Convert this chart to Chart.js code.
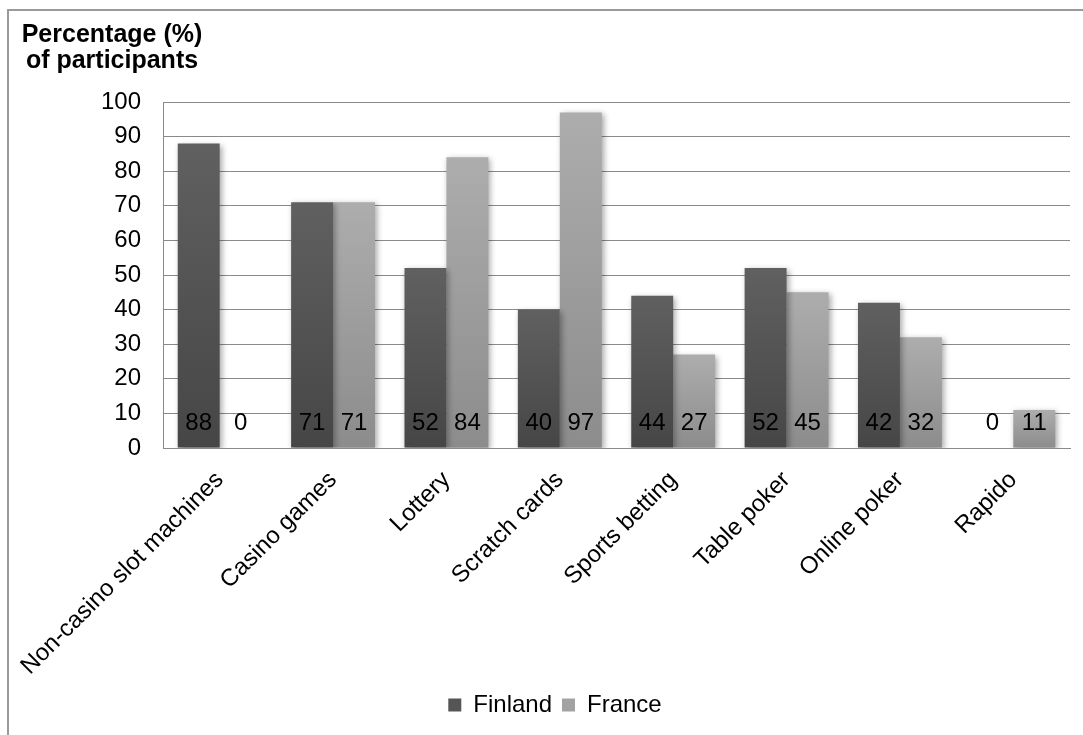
<!DOCTYPE html>
<html>
<head>
<meta charset="utf-8">
<script src="https://cdn.jsdelivr.net/npm/chart.js@4.4.1/dist/chart.umd.min.js"></script>
<style>
  html, body { margin: 0; padding: 0; background: #ffffff; }
  #wrap { width: 1083px; height: 735px; position: relative; }
</style>
</head>
<body>
<div id="wrap"><canvas id="chart" width="1083" height="735"></canvas></div>
<script>
// Gambling activities and share of participants per country
const categories = [
  'Non-casino slot machines', 'Casino games', 'Lottery', 'Scratch cards',
  'Sports betting', 'Table poker', 'Online poker', 'Rapido'
];
const finland = [88, 71, 52, 40, 44, 52, 42, 0];
const france  = [0, 71, 84, 97, 27, 45, 32, 11];
const seriesNames = ['Finland', 'France'];
const axisTitle = ['Percentage (%)', 'of participants'];
const yMin = 0, yMax = 100, yStep = 10;

const FONT = "'Liberation Sans', Arial, Helvetica, sans-serif";
const GRID = '#8a8a8a';

// per-bar vertical gradient, from the bar's top down to its base
function barGradient(topColor, bottomColor) {
  return (context) => {
    const chart = context.chart;
    const y = chart.scales && chart.scales.y;
    if (!y || context.type !== 'data' || !context.parsed) return bottomColor;
    const top = y.getPixelForValue(context.parsed.y);
    const base = y.getPixelForValue(0);
    if (Math.abs(base - top) < 1) return bottomColor;
    const g = chart.ctx.createLinearGradient(0, top, 0, base);
    g.addColorStop(0, topColor);
    g.addColorStop(1, bottomColor);
    return g;
  };
}

// outer frame lines and the axis caption at the top left
const framePlugin = {
  id: 'frame',
  beforeDraw(chart) {
    const c = chart.ctx;
    c.save();
    c.fillStyle = '#ffffff';
    c.fillRect(0, 0, chart.width, chart.height);
    c.strokeStyle = '#9a9a9a';
    c.lineWidth = 2;
    c.beginPath();
    c.moveTo(8, chart.height);
    c.lineTo(8, 10);
    c.lineTo(chart.width, 10);
    c.stroke();
    c.fillStyle = '#000000';
    c.font = 'bold 25px ' + FONT;
    c.textAlign = 'center';
    c.textBaseline = 'alphabetic';
    c.fillText(axisTitle[0], 112, 42);
    c.fillText(axisTitle[1], 112, 68);
    c.restore();
  }
};

// soft drop shadow under the bars
const shadowPlugin = {
  id: 'barShadow',
  beforeDatasetsDraw(chart) {
    const c = chart.ctx;
    c.save();
    c.shadowColor = 'rgba(0,0,0,0.35)';
    c.shadowBlur = 6;
    c.shadowOffsetX = 2;
    c.shadowOffsetY = 2;
  },
  afterDatasetsDraw(chart) {
    chart.ctx.restore();
  }
};

// value printed near the foot of every bar
const valueLabels = {
  id: 'valueLabels',
  afterDatasetsDraw(chart) {
    const c = chart.ctx;
    const base = chart.scales.y.getPixelForValue(0);
    c.save();
    c.shadowColor = 'transparent';
    c.fillStyle = '#000000';
    c.font = '24px ' + FONT;
    c.textAlign = 'center';
    c.textBaseline = 'alphabetic';
    chart.data.datasets.forEach((ds, i) => {
      chart.getDatasetMeta(i).data.forEach((bar, j) => {
        c.fillText(String(ds.data[j]), bar.x, base - 18);
      });
    });
    c.restore();
  }
};

new Chart(document.getElementById('chart'), {
  type: 'bar',
  data: {
    labels: categories,
    datasets: [
      {
        label: seriesNames[0],
        data: finland,
        backgroundColor: barGradient('#606060', '#464646'),
        borderWidth: 0,
        categoryPercentage: 0.74,
        barPercentage: 1.0
      },
      {
        label: seriesNames[1],
        data: france,
        backgroundColor: barGradient('#adadad', '#8c8c8c'),
        borderWidth: 0,
        categoryPercentage: 0.74,
        barPercentage: 1.0
      }
    ]
  },
  options: {
    responsive: false,
    animation: false,
    devicePixelRatio: 1,
    layout: { padding: { left: 40, right: 13, top: 102, bottom: 8 } },
    plugins: {
      title: { display: false },
      tooltip: { enabled: false },
      legend: {
        position: 'bottom',
        labels: {
          boxWidth: 13,
          boxHeight: 13,
          padding: 10,
          color: '#000000',
          font: { family: FONT, size: 24 },
          generateLabels(chart) {
            const fills = ['#555555', '#a2a2a2'];
            return chart.data.datasets.map((ds, i) => ({
              text: ds.label,
              fillStyle: fills[i],
              strokeStyle: fills[i],
              lineWidth: 0,
              hidden: false,
              datasetIndex: i
            }));
          }
        }
      }
    },
    scales: {
      x: {
        grid: { display: false, drawTicks: false },
        border: { display: true, color: GRID, width: 1 },
        ticks: {
          autoSkip: false,
          maxRotation: 45,
          minRotation: 45,
          padding: 18,
          color: '#000000',
          font: { family: FONT, size: 24 }
        },
        afterFit(axis) {
          axis.height = 235;
          axis.paddingLeft = 0;
          axis.paddingRight = 0;
        }
      },
      y: {
        min: yMin,
        max: yMax,
        grid: { color: GRID, lineWidth: 1, drawTicks: false },
        border: { display: true, color: GRID, width: 1 },
        ticks: {
          stepSize: yStep,
          padding: 22,
          color: '#000000',
          font: { family: FONT, size: 24 }
        },
        afterFit(axis) { axis.width = 123; }
      }
    }
  },
  plugins: [framePlugin, shadowPlugin, valueLabels]
});
</script>
</body>
</html>
